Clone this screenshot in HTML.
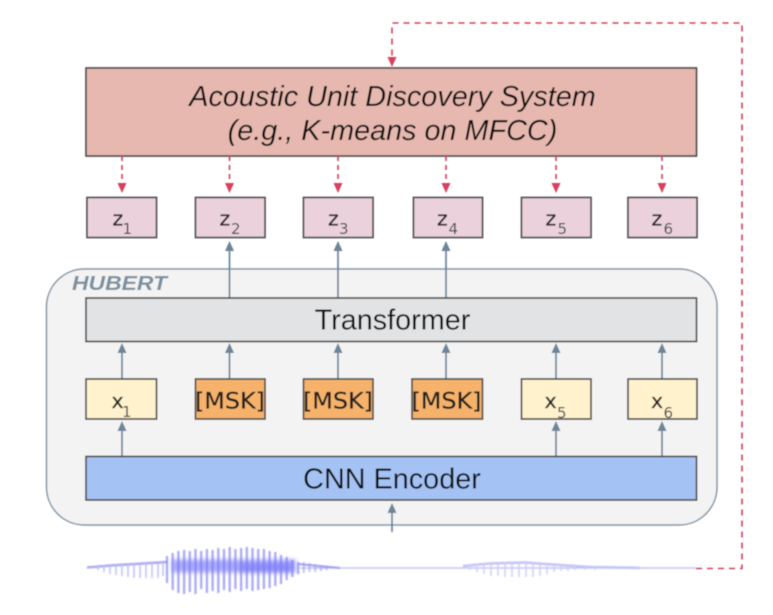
<!DOCTYPE html>
<html>
<head>
<meta charset="utf-8">
<style>
html,body{margin:0;padding:0;background:#fff;width:773px;height:615px;overflow:hidden}
svg{display:block}
text{font-family:"Liberation Sans",sans-serif;fill:#111}
.d{font-family:"DejaVu Sans",sans-serif;fill:#222;stroke:#222;stroke-width:.3}
.s{font-family:"DejaVu Sans",sans-serif;font-size:15px;fill:#4a4a4a}
.b{stroke:#505050;stroke-width:1.7}
.g{stroke:#6d8499;stroke-width:1.7;fill:none}
.r{stroke:#d2415b;stroke-width:1.6;fill:none;stroke-dasharray:6 5}
</style>
</head>
<body>
<svg width="773" height="615" viewBox="0 0 773 615" xmlns="http://www.w3.org/2000/svg">
<defs>
<filter id="f" x="-2%" y="-2%" width="104%" height="104%"><feGaussianBlur stdDeviation="0.55"/></filter>
<filter id="w" filterUnits="userSpaceOnUse" x="70" y="530" width="650" height="80"><feGaussianBlur stdDeviation="0.8"/></filter>
<filter id="w2" filterUnits="userSpaceOnUse" x="150" y="540" width="170" height="60"><feGaussianBlur stdDeviation="2.2"/></filter>
</defs>
<g filter="url(#f)">
<!-- HUBERT container -->
<rect x="46.500" y="269" width="670.500" height="256" rx="38" ry="38" fill="#f3f3f3" stroke="#8195a5" stroke-width="1.500"/>
<text x="72" y="290" font-size="20.500" font-weight="bold" font-style="italic" style="fill:#7c8f9f" textLength="95" lengthAdjust="spacingAndGlyphs">HUBERT</text>

<!-- Discovery system -->
<rect x="86" y="68" width="610.500" height="88" fill="#e6b8af" class="b"/>
<text x="392.500" y="106" font-size="28.800" font-style="italic" text-anchor="middle">Acoustic Unit Discovery System</text>
<text x="392.500" y="140" font-size="28.800" font-style="italic" text-anchor="middle">(e.g., K-means on MFCC)</text>

<!-- red dashed feedback -->
<path class="r" d="M696 568.500 H742 V23 H392 V60"/>
<polygon points="387.500,57 396.500,57 392,67" fill="#d9415b"/>

<!-- red dashed arrows -->
<path class="r" d="M122 156 V184M229.500 156 V184M338 156 V184M446 156 V184M556 156 V184M662 156 V184" style="stroke-dasharray:5 4"/>
<g fill="#d9415b">
<polygon points="117.500,183 126.500,183 122,193"/>
<polygon points="225,183 234,183 229.500,193"/>
<polygon points="333.500,183 342.500,183 338,193"/>
<polygon points="441.500,183 450.500,183 446,193"/>
<polygon points="551.500,183 560.500,183 556,193"/>
<polygon points="657.500,183 666.500,183 662,193"/>
</g>

<!-- z boxes -->
<g fill="#ead1dc" class="b">
<rect x="87" y="197.500" width="69.500" height="40"/>
<rect x="195.500" y="197.500" width="69.500" height="40"/>
<rect x="303.500" y="197.500" width="69.500" height="40"/>
<rect x="413.500" y="197.500" width="69" height="40"/>
<rect x="521.500" y="197.500" width="69.500" height="40"/>
<rect x="628" y="197.500" width="69" height="40"/>
</g>
<g font-size="20.500">
<text class="d" x="112.500" y="225.500">z</text><text class="s" x="122.500" y="234">1</text>
<text class="d" x="219.500" y="225.500">z</text><text class="s" x="231" y="234">2</text>
<text class="d" x="328" y="225.500">z</text><text class="s" x="339" y="234">3</text>
<text class="d" x="437" y="225.500">z</text><text class="s" x="448.500" y="234">4</text>
<text class="d" x="545.500" y="225.500">z</text><text class="s" x="557.500" y="234">5</text>
<text class="d" x="651.500" y="225.500">z</text><text class="s" x="663.500" y="234">6</text>
</g>

<!-- Blue-grey arrows: transformer to z -->
<path class="g" d="M229.500 298 V248M338 298 V248M446 298 V248"/>
<g fill="#6d8499">
<polygon points="225,251 234,251 229.500,241"/>
<polygon points="333.500,251 342.500,251 338,241"/>
<polygon points="441.500,251 450.500,251 446,241"/>
</g>

<!-- Transformer -->
<rect x="86" y="298" width="610.500" height="43.500" fill="#e2e3e5" class="b"/>
<text x="392.500" y="329.500" font-size="28.800" text-anchor="middle">Transformer</text>

<!-- x to Transformer arrows -->
<path class="g" d="M122 379 V350M229.500 379 V350M338 379 V350M446 379 V350M556 379 V350M662 379 V350"/>
<g fill="#6d8499">
<polygon points="117.500,353 126.500,353 122,343"/>
<polygon points="225,353 234,353 229.500,343"/>
<polygon points="333.500,353 342.500,353 338,343"/>
<polygon points="441.500,353 450.500,353 446,343"/>
<polygon points="551.500,353 560.500,353 556,343"/>
<polygon points="657.500,353 666.500,353 662,343"/>
</g>

<!-- x row -->
<g class="b">
<rect x="86" y="379" width="70.500" height="40" fill="#fff2cc"/>
<rect x="195.500" y="379" width="69.500" height="40" fill="#f6b26b"/>
<rect x="303.500" y="379" width="69.500" height="40" fill="#f6b26b"/>
<rect x="412" y="379" width="70.500" height="40" fill="#f6b26b"/>
<rect x="521.500" y="379" width="69.500" height="40" fill="#fff2cc"/>
<rect x="628" y="379" width="69" height="40" fill="#fff2cc"/>
</g>
<text class="d" x="111.500" y="408" font-size="20.500">x</text><text class="s" x="122" y="417">1</text>
<text class="d" x="544.500" y="408" font-size="20.500">x</text><text class="s" x="557" y="418">5</text>
<text class="d" x="651" y="408" font-size="20.500">x</text><text class="s" x="663.500" y="418">6</text>
<g font-size="22.500">
<text class="d" x="195" y="408.500" textLength="70" lengthAdjust="spacingAndGlyphs">[MSK]</text>
<text class="d" x="303" y="408.500" textLength="70" lengthAdjust="spacingAndGlyphs">[MSK]</text>
<text class="d" x="411.500" y="408.500" textLength="70" lengthAdjust="spacingAndGlyphs">[MSK]</text>
</g>

<!-- CNN to x arrows -->
<path class="g" d="M122 456 V428M556 456 V428M662 456 V428"/>
<g fill="#6d8499">
<polygon points="117.500,431 126.500,431 122,421"/>
<polygon points="551.500,431 560.500,431 556,421"/>
<polygon points="657.500,431 666.500,431 662,421"/>
</g>

<!-- CNN -->
<rect x="86" y="456.500" width="610.500" height="43.500" fill="#a4c2f4" class="b"/>
<text x="392" y="488.500" font-size="28.800" text-anchor="middle">CNN Encoder</text>

<!-- input arrow -->
<path class="g" d="M392 532 V510"/>
<polygon points="387.500,513 396.500,513 392,503" fill="#6d8499"/>
</g>

<!-- Waveform -->
<g filter="url(#w2)" fill="none">
<path d="M172 566 H296" stroke="#6f6ff6" stroke-width="13" stroke-opacity=".6"/>
<path d="M240 568 H292" stroke="#7c7cf8" stroke-width="10" stroke-opacity=".55"/>
</g>
<g filter="url(#w)" fill="none">
<path d="M300 568 H696" stroke="#b9b9f2" stroke-width="1.300"/>
<path d="M87 567.500 L110 565.500 L135 564 L167 562" stroke="#a9a9f2" stroke-width="2.500"/>
<path d="M98 565 V570M104 565 V572M110 565 V574M116 565 V575M122 564 V576M128 564 V577M134 564 V578M140 564 V578M146 563 V578M152 563 V578M158 563 V578M163 562 V576" stroke="#bcbcf6" stroke-width="1.500"/>
<path d="M167 556 V583M172.700 553 V590M178.400 551 V593M184.100 550 V594M189.800 551 V592M195.500 549 V594M201.200 551 V589M206.900 549 V593M212.600 550 V591M218.300 548 V593M224 549 V590M229.700 547 V592M235.400 549 V589M241.100 548 V591M246.800 547 V589M252.500 548 V591M258.200 549 V590M263.900 549 V589M269.600 551 V588M275.300 552 V586M281 555 V584M286.700 557 V580M292.400 560 V577M298.100 562 V574" stroke="#7c7cf4" stroke-width="2.100" stroke-opacity=".72"/>
<path d="M303.800 562 V573M309.500 563 V572M315.200 564 V572M320.900 565 V571M326.600 565.500 V570" stroke="#9c9cf3" stroke-width="1.800" stroke-opacity=".7"/>
<path d="M298 564 L340 568" stroke="#9c9cf3" stroke-width="2"/>
<path d="M463 566 L490 563.500 L525 562.500 L545 564 L590 567 L640 568" stroke="#c2c2f6" stroke-width="2.600"/>
<path d="M470 565 V570M477 564 V572M484 564 V574M491 564 V576M498 564 V576M505 563 V577M512 563 V577M519 563 V577M526 563 V577M533 564 V577M540 564 V576M547 564 V574M554 565 V572M561 565 V571M568 566 V571M575 566 V570M585 567 V570M595 567 V570" stroke="#cfcff8" stroke-width="1.600"/>
</g>
</svg>
</body>
</html>
